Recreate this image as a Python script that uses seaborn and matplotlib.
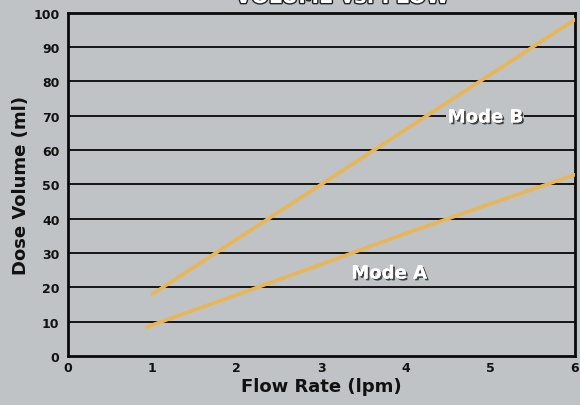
import pandas as pd
import numpy as np
import matplotlib.pyplot as plt
import matplotlib.patheffects as pe
import seaborn as sns

# Values
flow_a = [0.93, 2, 3, 4, 5, 6]
dose_a = [8.4, 17.8, 26.7, 35.7, 44.3, 52.8]
flow_b = [1, 2, 3, 4, 5, 6]
dose_b = [18, 34, 50, 66, 82, 98]
x_ticks = [0, 1, 2, 3, 4, 5, 6]
y_ticks = [0, 10, 20, 30, 40, 50, 60, 70, 80, 90, 100]

df = pd.concat([
    pd.DataFrame({'flow': flow_a, 'dose': dose_a, 'mode': 'Mode A'}),
    pd.DataFrame({'flow': flow_b, 'dose': dose_b, 'mode': 'Mode B'}),
])

sns.set_style('white')
plt.rcParams['font.family'] = ['DejaVu Sans']

bg = '#bfc3c5'
fig = plt.figure(figsize=(5.8, 4.06), dpi=100, facecolor=bg)
ax = fig.add_axes([0.117, 0.121, 0.874, 0.845])
ax.set_facecolor(bg)

# Grid lines behind the curves
for v in y_ticks[1:-1]:
    ax.axhline(v, color='#151515', linewidth=1.4, zorder=1)

sns.lineplot(data=df, x='flow', y='dose', hue='mode',
             palette={'Mode A': '#e9b555', 'Mode B': '#e9b555'},
             linewidth=2.6, legend=False, ax=ax, zorder=3)

ax.set_xlim(0, 6)
ax.set_ylim(0, 100)
ax.set_xticks(x_ticks)
ax.set_yticks(y_ticks)
ax.tick_params(axis='x', direction='in', length=4, width=1.2, pad=4,
               labelsize=9)
ax.tick_params(axis='y', length=0, pad=6, labelsize=9)
for lab in ax.get_xticklabels() + ax.get_yticklabels():
    lab.set_fontweight('bold')
    lab.set_color('#111111')

for side in ['left', 'bottom', 'top', 'right']:
    ax.spines[side].set_visible(True)
    ax.spines[side].set_color('#0a0a0a')
    ax.spines[side].set_linewidth(2.0)

ax.set_xlabel('Flow Rate (lpm)', fontsize=13, fontweight='bold',
              color='#111111', labelpad=2)
ax.set_ylabel('Dose Volume (ml)', fontsize=13, fontweight='bold',
              color='#111111', labelpad=2)

shadow = [pe.withSimplePatchShadow(offset=(1.3, -1.3), shadow_rgbFace='#333333', alpha=0.9),
          pe.Normal()]
ax.text(4.94, 69.5, 'Mode B', fontsize=13, fontweight='bold', color='white',
        ha='center', va='center', zorder=5, path_effects=shadow,
        bbox=dict(facecolor=bg, edgecolor='none', pad=1))
ax.text(3.8, 24, 'Mode A', fontsize=13, fontweight='bold', color='white',
        ha='center', va='center', zorder=5, path_effects=shadow)

# Title cut off at the top edge, as in the reference
fig.text(0.59, 1.005, 'VOLUME vs. FLOW', fontsize=15, fontweight='bold',
         color='white', ha='center', va='center',
         path_effects=[pe.withStroke(linewidth=2, foreground='#222222')])

fig.savefig('out.png', dpi=100, facecolor=bg)
